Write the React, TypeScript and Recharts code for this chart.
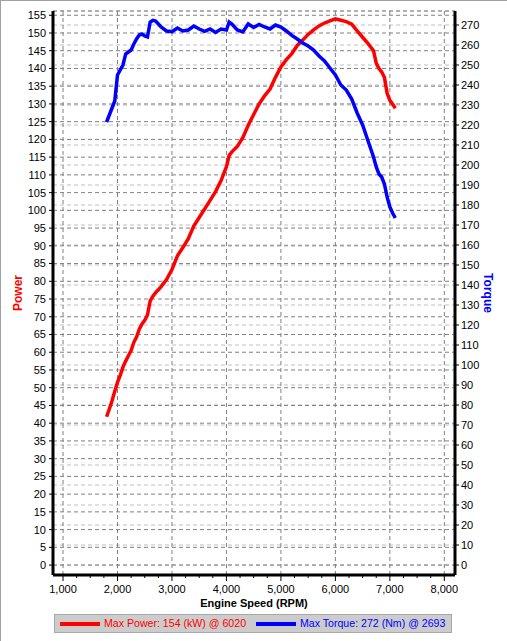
import React from 'react';
import { LineChart, Line, XAxis, YAxis, CartesianGrid, ReferenceLine } from 'recharts';

const FONT = '"Liberation Sans", Arial, sans-serif';

// engine speed samples (RPM)
const rpm = [
  1800, 1850, 1900, 1950, 2000, 2050, 2100, 2150, 2200, 2250, 2300, 2350, 2400, 2450, 2500, 2550,
  2600, 2650, 2700, 2750, 2800, 2900, 3000, 3100, 3200, 3300, 3400, 3500, 3600, 3700, 3800, 3900,
  4000, 4050, 4100, 4200, 4300, 4400, 4500, 4600, 4700, 4800, 4900, 5000, 5100, 5200, 5300, 5400,
  5500, 5600, 5700, 5800, 5900, 6000, 6100, 6200, 6300, 6400, 6500, 6600, 6700, 6750, 6800, 6850,
  6900, 6950, 7000, 7050, 7100,
];

// power (kW)
const powerKw = [
  41.8, 44, 46.3, 49, 51.5, 53.5, 55.8, 57.5, 59, 60.5, 62.8, 64.3, 66.5, 68, 69, 70.5,
  74.5, 75.8, 76.8, 77.6, 78.5, 80.5, 83.3, 87.2, 89.5, 92, 95.6, 98, 100.4, 102.8, 105.3, 108.3,
  112.3, 115.5, 116.5, 118, 120.5, 124, 127, 130, 132.3, 134.2, 137.5, 140.4, 142.5, 144.2, 146.5, 148,
  149.6, 150.9, 152, 152.8, 153.4, 154, 153.6, 153.2, 152.5, 150.6, 148.8, 147, 145, 141.5, 140, 139,
  137.5, 133, 131, 130, 128.8,
];

// torque (Nm)
const torqueNm = [
  221.5, 225, 228.5, 232, 245, 247.5, 250, 255.5, 256.5, 257.5, 260.5, 263, 265, 265.5, 264.5, 264,
  271.5, 272.3, 272, 270.5, 269, 267, 266.7, 268.5, 267, 267.5, 269.5, 268, 266.8, 268, 266.3, 268,
  267.5, 271.5, 270.5, 267.5, 266.5, 270.5, 268.8, 270.3, 269, 268, 270, 269, 267, 264.8, 263, 261,
  259.5, 257.5, 254.5, 252, 248.5, 245, 240, 237.5, 233, 226, 220, 212, 204, 199, 195.5, 194,
  190.5, 184, 179, 176, 173.5,
];

const rpmMajor = [1000, 2000, 3000, 4000, 5000, 6000, 7000, 8000];
const rpmTicks = rpmMajor.flatMap((v) => (v < 8000 ? [v, v + 250, v + 500, v + 750] : [v]));
const powerTicks = [
  0, 5, 10, 15, 20, 25, 30, 35, 40, 45, 50, 55, 60, 65, 70, 75, 80, 85, 90, 95, 100, 105, 110, 115,
  120, 125, 130, 135, 140, 145, 150, 155,
];
const torqueTicks = [
  0, 10, 20, 30, 40, 50, 60, 70, 80, 90, 100, 110, 120, 130, 140, 150, 160, 170, 180, 190, 200, 210,
  220, 230, 240, 250, 260, 270,
];

const data = rpm.map((r, i) => ({ rpm: r, power: powerKw[i], torque: torqueNm[i] }));

const RpmTick = (props: any) => {
  const { x, y, payload } = props;
  const major = payload.value % 1000 === 0;
  return (
    <g>
      <line x1={x} y1={y} x2={x} y2={y + (major ? 6 : 3)} stroke="#000" strokeWidth={1} />
      {major && (
        <text x={x} y={y + 18} textAnchor="middle" fontSize={11} fontFamily={FONT} fill="#000">
          {payload.value.toLocaleString('en-US')}
        </text>
      )}
    </g>
  );
};

const axisTitle = (text: string, color: string, cx: number, cy: number, angle: number, size: number) => () => (
  <text
    x={cx}
    y={cy}
    transform={angle ? `rotate(${angle} ${cx} ${cy})` : undefined}
    textAnchor="middle"
    dominantBaseline="central"
    fill={color}
    fontWeight="bold"
    fontSize={size}
    fontFamily={FONT}
  >
    {text}
  </text>
);

export default function App() {
  const tickStyle = { fontSize: 11, fontFamily: FONT, fill: '#000' };
  return (
    <div
      style={{
        position: 'absolute',
        left: 0,
        top: 0,
        width: 507,
        height: 641,
        background: '#fff',
        borderTop: '1px solid #a0a0a0',
        borderLeft: '1px solid #a0a0a0',
        boxSizing: 'border-box',
      }}
    >
      <div style={{ position: 'absolute', left: -1, top: -1 }}>
        <LineChart width={507} height={641} data={data} margin={{ top: 11, right: 0, bottom: 0, left: 0 }}>
          <CartesianGrid yAxisId="right" vertical={false} stroke="#c0c0c0" strokeDasharray="4 3" />
          <CartesianGrid yAxisId="left" vertical={false} stroke="#808080" strokeDasharray="4 3" />
          {rpmMajor.map((v) => (
            <ReferenceLine key={v} x={v} yAxisId="left" stroke="#808080" strokeDasharray="4 3" />
          ))}
          <XAxis
            dataKey="rpm"
            type="number"
            domain={[816, 8196]}
            ticks={rpmTicks}
            interval={0}
            allowDataOverflow
            height={66}
            tickSize={0}
            tickMargin={0}
            tickLine={false}
            tick={<RpmTick />}
            axisLine={{ stroke: '#000', strokeWidth: 3 }}
            label={{ content: axisTitle('Engine Speed (RPM)', '#000', 254, 603, 0, 11) }}
          />
          <XAxis
            xAxisId="top"
            orientation="top"
            type="number"
            domain={[816, 8196]}
            height={0}
            tick={false}
            tickLine={false}
            axisLine={{ stroke: '#000', strokeWidth: 2 }}
          />
          <YAxis
            yAxisId="left"
            orientation="left"
            width={53}
            domain={[-2.8, 156.2]}
            ticks={powerTicks}
            interval={0}
            allowDataOverflow
            tickSize={4}
            tickMargin={3}
            tick={tickStyle}
            tickLine={{ stroke: '#000' }}
            axisLine={{ stroke: '#000', strokeWidth: 3 }}
            label={{ content: axisTitle('Power', '#ff0000', 18, 293, -90, 12) }}
          />
          <YAxis
            yAxisId="right"
            orientation="right"
            width={52}
            domain={[-5, 277]}
            ticks={torqueTicks}
            interval={0}
            allowDataOverflow
            tickSize={4}
            tickMargin={2}
            tick={tickStyle}
            tickLine={{ stroke: '#000' }}
            axisLine={{ stroke: '#000', strokeWidth: 3 }}
            label={{ content: axisTitle('Torque', '#0000ff', 488, 293, 90, 12) }}
          />
          <Line
            yAxisId="left"
            dataKey="power"
            type="linear"
            stroke="#ff0000"
            strokeWidth={3.5}
            dot={false}
            isAnimationActive={false}
          />
          <Line
            yAxisId="right"
            dataKey="torque"
            type="linear"
            stroke="#0000ff"
            strokeWidth={3.5}
            dot={false}
            isAnimationActive={false}
          />
        </LineChart>
      </div>
      <div
        style={{
          position: 'absolute',
          left: 53,
          top: 613,
          width: 398,
          height: 19,
          background: '#cccccc',
          border: '1px solid #a8a8a8',
          boxSizing: 'border-box',
          fontFamily: FONT,
          fontSize: 10.6,
        }}
      >
        <div style={{ position: 'absolute', left: 5, top: 6.5, width: 40, height: 4, background: '#ff0000' }} />
        <div style={{ position: 'absolute', left: 49, top: 2, color: '#ff0000', whiteSpace: 'nowrap', lineHeight: '13px' }}>
          Max Power: 154 (kW) @ 6020
        </div>
        <div style={{ position: 'absolute', left: 201, top: 6.5, width: 40, height: 4, background: '#0000ff' }} />
        <div style={{ position: 'absolute', left: 245, top: 2, color: '#0000ff', whiteSpace: 'nowrap', lineHeight: '13px' }}>
          Max Torque: 272 (Nm) @ 2693
        </div>
      </div>
    </div>
  );
}
